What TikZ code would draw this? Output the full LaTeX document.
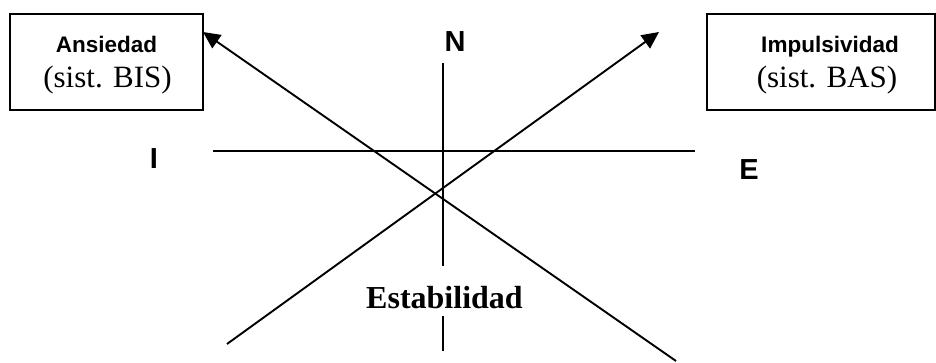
\documentclass[tikz,border=0pt]{standalone}
\usepackage{fontspec}
\setmainfont{Liberation Serif}
\newfontfamily\arialfont{Liberation Sans}
\usetikzlibrary{arrows.meta}
\tikzset{
  boxnode/.style={draw, line width=1.8pt, inner sep=0pt, minimum width=#1, minimum height=96pt},
  axisline/.style={line width=2pt},
  diagarrow/.style={line width=1.9pt, -{Triangle[length=17pt,width=16pt]}},
  titletxt/.style={font=\arialfont\bfseries\fontsize{22.5}{24}\selectfont, anchor=base, inner sep=0pt},
  subtxt/.style={font=\fontsize{31}{33}\selectfont, anchor=base, inner sep=0pt},
  poletxt/.style={font=\arialfont\bfseries\fontsize{29}{31}\selectfont, anchor=base, inner sep=0pt},
  stabtxt/.style={font=\bfseries\fontsize{32}{34}\selectfont, anchor=base, inner sep=0pt}
}
\begin{document}
\begin{tikzpicture}[x=1pt,y=-1pt]
\useasboundingbox (0,0) rectangle (936,363);
% boxes
\node[boxnode=193pt] (ansbox) at (106.5,62) {};
\node[boxnode=228pt] (impbox) at (821,62) {};
\node[titletxt] (ans) at (106.5,53) {Ansiedad};
\node[subtxt] (bis) at (107.5,88) {(sist. BIS)};
\node[titletxt] (imp) at (830,53) {Impulsividad};
\node[subtxt] (bas) at (827,88) {(sist. BAS)};
% pole labels
\node[poletxt] (N) at (455,52) {N};
\node[poletxt] (I) at (154,169) {I};
\node[poletxt] (E) at (749,180) {E};
\node[stabtxt] (stab) at (444.5,308) {Estabilidad};
% axes
\coordinate (hl) at (213,151);
\coordinate (hr) at (695,151);
\coordinate (vt) at (443,63);
\coordinate (vm) at (443,266);
\coordinate (vb1) at (443,316);
\coordinate (vb2) at (443,351);
\draw[axisline] (hl) -- (hr);
\draw[axisline] (vt) -- (vm);
\draw[axisline] (vb1) -- (vb2);
% arrows
\coordinate (atail) at (676,361);
\coordinate (atip) at (203,32);
\coordinate (btail) at (227,344);
\coordinate (btip) at (659,32);
\draw[diagarrow] (atail) -- (atip);
\draw[diagarrow] (btail) -- (btip);
\end{tikzpicture}
\end{document}
